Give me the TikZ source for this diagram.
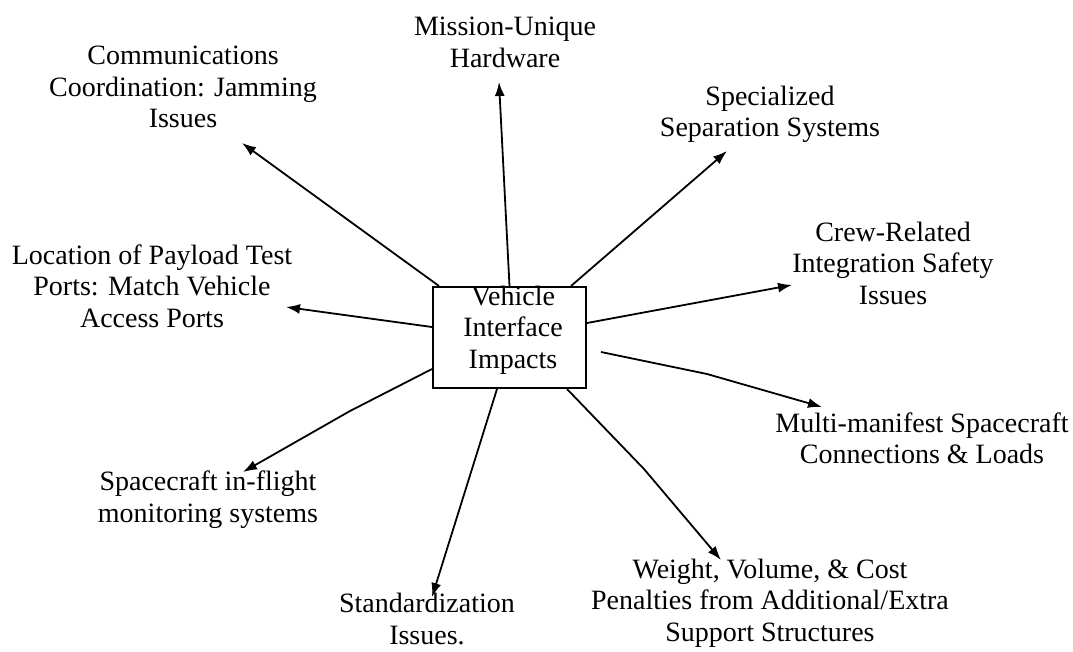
\documentclass[tikz,border=0pt]{standalone}
\usepackage{fontspec}
\setmainfont{Liberation Serif}
\usetikzlibrary{arrows.meta,calc}

\tikzset{
  lbl/.style={align=center, inner sep=0pt, font=\fontsize{28}{31.5}\selectfont},
  hubbox/.style={draw, line width=2pt, minimum width=153pt, minimum height=101pt, inner sep=0pt},
  link/.style={line width=1.8pt, -{Latex[length=14pt,width=10pt]}}
}

\begin{document}
\begin{tikzpicture}[x=1pt, y=-1pt]
  \useasboundingbox (0,0) rectangle (1073,651);

  % central box and its caption
  \node[hubbox] (hub) at (509.5,337.5) {};
  \node[lbl] (hubtext) at (513,330) {Vehicle\\Interface\\Impacts};

  % surrounding topics
  \node[lbl] (comm)    at (183,87)    {Communications\\Coordination: Jamming\\Issues};
  \node[lbl] (mission) at (505,42.5)  {Mission-Unique\\Hardware};
  \node[lbl] (spec)    at (770,114.5) {Specialized\\Separation Systems};
  \node[lbl] (crew)    at (893,263)   {Crew-Related\\Integration Safety\\Issues};
  \node[lbl] (loc)     at (152,286)   {Location of Payload Test\\Ports: Match Vehicle\\Access Ports};
  \node[lbl] (multi)   at (922,438.5) {Multi-manifest Spacecraft\\Connections \& Loads};
  \node[lbl] (space)   at (208,499.5) {Spacecraft in-flight\\monitoring systems};
  \node[lbl] (stand)   at (427,619)   {Standardization\\Issues.};
  \node[lbl] (weight)  at (770,603)   {Weight, Volume, \& Cost\\Penalties from Additional/Extra\\Support Structures};

  % arrow tips and bends
  \coordinate (commTip)    at (242,143);
  \coordinate (missionTip) at (499,82);
  \coordinate (specTip)    at (727,151);
  \coordinate (crewTip)    at (792,285);
  \coordinate (locTip)     at (286,307);
  \coordinate (multiBend)  at (707,374);
  \coordinate (multiTip)   at (822,407);
  \coordinate (weightBend) at (644,469);
  \coordinate (weightTip)  at (721,560);
  \coordinate (standTip)   at (432,597);
  \coordinate (spaceBend)  at (350,411);
  \coordinate (spaceTip)   at (243,472);

  % connectors from the box
  \draw[link] ($(hub.north west)+(7,0)$) -- (commTip);
  \draw[link] (hub.north) -- (missionTip);
  \draw[link] ($(hub.north east)+(-16,0)$) -- (specTip);
  \draw[link] ($(hub.east)+(0,-14.5)$) -- (crewTip);
  \draw[link] ($(hub.west)+(0,-10.5)$) -- (locTip);
  \draw[link] ($(hub.east)+(14,14.5)$) -- (multiBend) -- (multiTip);
  \draw[link] ($(hub.south east)+(-20,0)$) -- (weightBend) -- (weightTip);
  \draw[link] ($(hub.south)+(-12.5,0)$) -- (standTip);
  \draw[link] ($(hub.west)+(0,31.5)$) -- (spaceBend) -- (spaceTip);
\end{tikzpicture}
\end{document}
